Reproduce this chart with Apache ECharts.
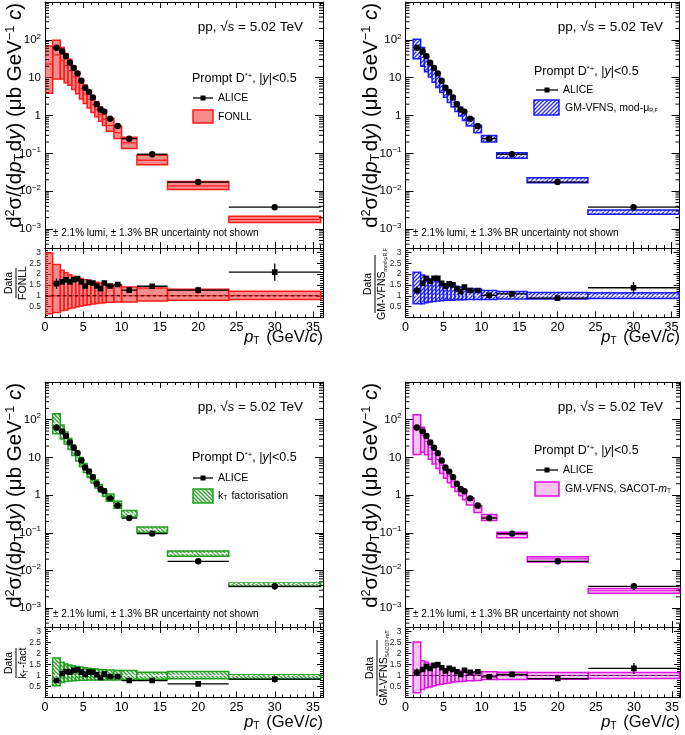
<!DOCTYPE html>
<html><head><meta charset="utf-8">
<script src="https://cdn.jsdelivr.net/npm/echarts@6/dist/echarts.min.js"></script>
<style>html,body{margin:0;padding:0;background:#fff}#c{width:685px;height:735px}</style>
</head><body><div id="c"></div><script>
// ---------------- data ----------------
const binLo = [1,2,2.5,3,3.5,4,4.5,5,5.5,6,6.5,7,7.5,8,9,10,12,16,24];
const binHi = [2,2.5,3,3.5,4,4.5,5,5.5,6,6.5,7,7.5,8,9,10,12,16,24,36];
const binCenter = [1.5,2.25,2.75,3.25,3.75,4.25,4.75,5.25,5.75,6.25,6.75,7.25,7.75,8.5,9.5,11,14,20,30];
const aliceXsec = [62,49,37,25,18,13,8.3,5.4,4.2,3.0,2.0,1.45,1.27,0.82,0.53,0.245,0.095,0.0175,0.0038];
const aliceStatRel = [0.15,0.05,0.04,0.04,0.04,0.04,0.04,0.04,0.04,0.04,0.05,0.05,0.05,0.05,0.05,0.06,0.06,0.12,0.19];

const fonllBinLo = [0,1,2,2.5,3,3.5,4,4.5,5,5.5,6,6.5,7,7.5,8,9,10,12,16,24];
const fonllBinHi = [1,2,2.5,3,3.5,4,4.5,5,5.5,6,6.5,7,7.5,8,9,10,12,16,24,36];
const fonllCentral = [23,40,29,21,15.5,10.8,7.5,5.2,3.7,2.7,1.95,1.42,1.06,0.80,0.55,0.35,0.19,0.066,0.0138,0.0018];
const fonllRelHi = [2.97,2.44,2.17,2.06,1.97,1.89,1.83,1.79,1.74,1.70,1.65,1.62,1.59,1.56,1.52,1.48,1.41,1.36,1.30,1.21];
const fonllRelLo = [0.17,0.23,0.32,0.35,0.41,0.45,0.50,0.53,0.56,0.59,0.62,0.65,0.67,0.68,0.70,0.71,0.71,0.76,0.80,0.83];
const ratioFonll = [1.56,1.64,1.74,1.64,1.74,1.79,1.64,1.45,1.62,1.59,1.45,1.33,1.59,1.45,1.52,1.26,1.44,1.26,2.09];

const gmModCentral = [50,32,21,14.8,10.2,7.3,5.3,3.85,2.8,2.1,1.55,1.18,0.9,0.64,0.42,0.24,0.087,0.0197,0.0028];
const gmModRelHi = [2.08,1.96,1.85,1.78,1.70,1.66,1.61,1.55,1.50,1.47,1.44,1.40,1.37,1.34,1.31,1.24,1.20,1.15,1.14];
const gmModRelLo = [0.63,0.63,0.68,0.71,0.74,0.76,0.77,0.79,0.79,0.80,0.82,0.82,0.82,0.83,0.83,0.83,0.85,0.85,0.88];
const ratioGmMod = [1.24,1.58,1.81,1.67,1.81,1.81,1.58,1.44,1.55,1.50,1.32,1.20,1.40,1.24,1.24,1.02,1.09,0.89,1.37];

const ktCentral = [80,45,31,21.5,14.8,10.4,7.2,5.1,3.7,2.65,1.95,1.5,1.15,0.86,0.56,0.318,0.123,0.028,0.0045];
const ktRelHi = [1.79,1.60,1.52,1.47,1.44,1.40,1.38,1.35,1.33,1.31,1.29,1.27,1.26,1.25,1.23,1.23,1.15,1.18,1.03];
const ktRelLo = [0.53,0.68,0.73,0.75,0.76,0.77,0.78,0.78,0.79,0.79,0.79,0.80,0.80,0.80,0.80,0.83,0.83,0.85,0.83];
const ratioKt = [0.77,1.08,1.18,1.15,1.23,1.26,1.15,1.06,1.15,1.14,1.03,0.91,1.06,0.95,0.95,0.77,0.77,0.62,0.83];

const sacotCentral = [54,38,26.5,18.5,12.6,8.8,6.2,4.45,3.2,2.35,1.75,1.32,1.02,0.72,0.45,0.26,0.09,0.0203,0.0029];
const sacotRelHi = [2.52,1.67,1.60,1.52,1.46,1.40,1.35,1.31,1.27,1.24,1.21,1.20,1.18,1.17,1.15,1.17,1.15,1.14,1.14];
const sacotRelLo = [0.22,0.36,0.44,0.48,0.53,0.58,0.60,0.63,0.66,0.70,0.71,0.73,0.74,0.76,0.77,0.82,0.82,0.83,0.86];
const ratioSacot = [1.14,1.27,1.40,1.32,1.46,1.50,1.35,1.20,1.32,1.27,1.17,1.05,1.24,1.14,1.17,0.94,1.05,0.86,1.32];

const xTickLabels = ['0','5','10','15','20','25','30','35'];
const logDecades = [-3,-2,-1,0,1,2];
const logTickLabels = ['10{s|−3}','10{s|−2}','10{s|−1}','1','10','10{s|2}'];
const ratioTickLabels = ['0.5','1','1.5','2','2.5','3'];
const logMinorMult = [2,3,4,5,6,7,8,9];
const logMinorDecades = [-4,-3,-2,-1,0,1,2];

// ---------------- styles ----------------
const FF = 'Liberation Sans, Arial, sans-serif';
const F = (s, it) => (it ? 'italic ' : '') + s + 'px "Liberation Sans", Arial, sans-serif';
function hatch(color, dir) {
  const n = 4, c = document.createElement('canvas'); c.width = n; c.height = n;
  const g = c.getContext('2d');
  g.fillStyle = '#fff'; g.fillRect(0,0,n,n);
  g.strokeStyle = color; g.lineWidth = 1.3; g.beginPath();
  if (dir > 0) { g.moveTo(-1,n+1); g.lineTo(n+1,-1); g.moveTo(-1,1); g.lineTo(1,-1); g.moveTo(n-1,n+1); g.lineTo(n+1,n-1); }
  else { g.moveTo(-1,-1); g.lineTo(n+1,n+1); g.moveTo(-1,n-1); g.lineTo(1,n+1); g.moveTo(n-1,-1); g.lineTo(n+1,1); }
  g.stroke();
  return {image: c, repeat: 'repeat'};
}
const models = {
  fonll: {lo: fonllBinLo, hi: fonllBinHi, central: fonllCentral, relLo: fonllRelLo, relHi: fonllRelHi, ratio: ratioFonll,
    fill: 'rgba(240,70,70,0.62)', stroke: '#ff1a1a', cline: '#ff0000', cdash: null, unity: true},
  gmmod: {lo: binLo, hi: binHi, central: gmModCentral, relLo: gmModRelLo, relHi: gmModRelHi, ratio: ratioGmMod,
    fill: hatch('#2a2af0', 1), stroke: '#1a1aff', cline: '#ffffff', cdash: [3,2], unity: false},
  kt: {lo: binLo, hi: binHi, central: ktCentral, relLo: ktRelLo, relHi: ktRelHi, ratio: ratioKt,
    fill: hatch('#2aa52a', -1), stroke: '#1fa01f', cline: '#ffffff', cdash: [3,2], unity: false},
  sacot: {lo: binLo, hi: binHi, central: sacotCentral, relLo: sacotRelLo, relHi: sacotRelHi, ratio: ratioSacot,
    fill: 'rgba(245,185,240,0.85)', stroke: '#e010e0', cline: '#e000e0', cdash: null, unity: true}
};

const panels = [
  {m: 'fonll', left: 45, width: 278, xmax: 36.3, top: 2, mainH: 246, ratioH: 69.5},
  {m: 'gmmod', left: 405.5, width: 274, xmax: 36.05, top: 2, mainH: 246, ratioH: 69.5},
  {m: 'kt', left: 45, width: 278, xmax: 36.3, top: 382, mainH: 245, ratioH: 70.5},
  {m: 'sacot', left: 405.5, width: 274.5, xmax: 36.05, top: 382, mainH: 245, ratioH: 70.5}
];
const LOGMIN = Math.pow(10, -3.5), LOGMAX = 1000;

const axLine = {show: true, onZero: false, lineStyle: {color: '#000', width: 1}};
function xAx(g, xmax, pos, labels) {
  return {type: 'value', gridIndex: g, min: 0, max: xmax, interval: 5, position: pos,
    axisLine: axLine,
    axisTick: {show: true, inside: true, length: 6, lineStyle: {color: '#000', width: 1}},
    minorTick: {show: true, splitNumber: 5, length: 3, lineStyle: {color: '#000', width: 1}},
    splitLine: {show: false}, minorSplitLine: {show: false},
    axisLabel: labels ? {show: true, margin: 4, fontSize: 12.5, fontFamily: FF, color: '#000',
      formatter: v => (Math.abs(v % 5) < 1e-6 && v <= 35) ? xTickLabels[Math.round(v / 5)] : ''} : {show: false}};
}
function yLog(g, pos, labels) {
  return {type: 'log', logBase: 10, gridIndex: g, min: LOGMIN, max: LOGMAX, position: pos,
    axisLine: axLine,
    axisTick: {show: true, inside: true, length: 8, lineStyle: {color: '#000', width: 1}},
    minorTick: {show: false}, splitLine: {show: false},
    axisLabel: labels ? {show: true, margin: 4, fontSize: 11.5, fontFamily: FF, color: '#000',
      formatter: v => { const l = Math.log10(v), e = Math.round(l);
        if (Math.abs(l - e) > 1e-6) return ''; const k = logDecades.indexOf(e); return k < 0 ? '' : logTickLabels[k]; },
      rich: {s: {fontSize: 8, fontFamily: FF, color: '#000', padding: [0, 0, 7, 0]}}} : {show: false}};
}
function yRatio(g, pos, labels) {
  return {type: 'value', gridIndex: g, min: 0, max: 3.2, interval: 0.5, position: pos,
    axisLine: axLine,
    axisTick: {show: true, inside: true, length: 6, lineStyle: {color: '#000', width: 1}},
    minorTick: {show: true, splitNumber: 5, length: 3, lineStyle: {color: '#000', width: 1}},
    splitLine: {show: false}, minorSplitLine: {show: false},
    axisLabel: labels ? {show: true, margin: 4, fontSize: 8.5, fontFamily: FF, color: '#222',
      formatter: v => { const k = Math.round(v / 0.5) - 1; return (Math.abs(v / 0.5 - Math.round(v / 0.5)) < 1e-6 && k >= 0 && k < 6) ? ratioTickLabels[k] : ''; }} : {show: false}};
}

function bandRender(mod) {
  return (params, api) => {
    const x0 = api.value(0), x1 = api.value(1), lo = api.value(2), hi = api.value(3), c = api.value(4);
    const p0 = api.coord([x0, hi]), p1 = api.coord([x1, lo]);
    const q0 = api.coord([x0, c]), q1 = api.coord([x1, c]);
    return {type: 'group', children: [
      {type: 'rect', shape: {x: p0[0], y: p0[1], width: p1[0] - p0[0], height: p1[1] - p0[1]},
        style: {fill: mod.fill, stroke: mod.stroke, lineWidth: 1.5}},
      {type: 'line', shape: {x1: q0[0] + 1, y1: q0[1], x2: q1[0] - 1, y2: q1[1]},
        style: {stroke: mod.cline, lineWidth: 1, lineDash: mod.cdash}}
    ]};
  };
}
function dataRender(kind) {
  return (params, api) => {
    const c = api.coord([api.value(0), api.value(1)]);
    const l = api.coord([api.value(2), api.value(1)]);
    const r = api.coord([api.value(3), api.value(1)]);
    const lo = api.coord([api.value(0), api.value(4)]);
    const hi = api.coord([api.value(0), api.value(5)]);
    const mk = kind === 'circle'
      ? {type: 'circle', shape: {cx: c[0], cy: c[1], r: 3.2}, style: {fill: '#000'}}
      : {type: 'rect', shape: {x: c[0] - 2.8, y: c[1] - 2.8, width: 5.6, height: 5.6}, style: {fill: '#000'}};
    return {type: 'group', children: [
      {type: 'line', shape: {x1: l[0], y1: c[1], x2: r[0], y2: c[1]}, style: {stroke: '#000', lineWidth: 1.3}},
      {type: 'line', shape: {x1: c[0], y1: lo[1], x2: c[0], y2: hi[1]}, style: {stroke: '#000', lineWidth: 1.3}},
      mk]};
  };
}
function minorRender(params, api) {
  const cs = params.coordSys;
  const y = api.coord([1, api.value(1)])[1];
  if (y < cs.y + 0.5 || y > cs.y + cs.height - 0.5) return null;
  return {type: 'group', children: [
    {type: 'line', shape: {x1: cs.x, y1: y, x2: cs.x + 4, y2: y}, style: {stroke: '#000', lineWidth: 1}},
    {type: 'line', shape: {x1: cs.x + cs.width, y1: y, x2: cs.x + cs.width - 4, y2: y}, style: {stroke: '#000', lineWidth: 1}}
  ]};
}
const minorVals = [];
logMinorDecades.forEach(d => logMinorMult.forEach(m => minorVals.push([1, m * Math.pow(10, d)])));

const grid = [], xAxis = [], yAxis = [], series = [];
panels.forEach((p, i) => {
  const mod = models[p.m];
  grid.push({left: p.left, top: p.top, width: p.width, height: p.mainH});
  grid.push({left: p.left, top: p.top + p.mainH, width: p.width, height: p.ratioH});
  const gm = 2 * i, gr = 2 * i + 1;
  xAxis.push(xAx(gm, p.xmax, 'bottom', false), xAx(gm, p.xmax, 'top', false), xAx(gr, p.xmax, 'bottom', true), xAx(gr, p.xmax, 'top', false));
  yAxis.push(yLog(gm, 'left', true), yLog(gm, 'right', false), yRatio(gr, 'left', true), yRatio(gr, 'right', false));
  const xm = 4 * i, xr = 4 * i + 2;
  const mainBand = mod.central.map((c, j) => [mod.lo[j], mod.hi[j], c * mod.relLo[j], c * mod.relHi[j], c]);
  const ratioBand = mod.central.map((c, j) => [mod.lo[j], mod.hi[j], mod.relLo[j], mod.relHi[j], 1]);
  const mainData = aliceXsec.map((v, j) => [binCenter[j], v, binLo[j], binHi[j], v * (1 - aliceStatRel[j]), v * (1 + aliceStatRel[j])]);
  const ratioData = mod.ratio.map((v, j) => [binCenter[j], v, binLo[j], binHi[j], v * (1 - aliceStatRel[j]), v * (1 + aliceStatRel[j])]);
  series.push({type: 'custom', xAxisIndex: xm, yAxisIndex: xm, clip: true, silent: true, data: mainBand,
    encode: {x: [0, 1], y: [2, 3]}, renderItem: bandRender(mod), z: 2});
  series.push({type: 'custom', xAxisIndex: xm, yAxisIndex: xm, silent: true, data: minorVals,
    encode: {x: 0, y: 1}, renderItem: minorRender, z: 5});
  series.push({type: 'custom', xAxisIndex: xm, yAxisIndex: xm, clip: true, silent: true, data: mainData,
    encode: {x: [0, 2, 3], y: [1, 4, 5]}, renderItem: dataRender('circle'), z: 4});
  series.push({type: 'custom', xAxisIndex: xr, yAxisIndex: xr, clip: true, silent: true, data: ratioBand,
    encode: {x: [0, 1], y: [2, 3]}, renderItem: bandRender(mod), z: 2});
  if (mod.unity) series.push({type: 'line', xAxisIndex: xr, yAxisIndex: xr, silent: true, symbol: 'none',
    data: [[0, 1], [p.xmax, 1]], lineStyle: {color: '#000', width: 1, type: [3, 3]}, z: 3});
  series.push({type: 'custom', xAxisIndex: xr, yAxisIndex: xr, clip: true, silent: true, data: ratioData,
    encode: {x: [0, 2, 3], y: [1, 4, 5]}, renderItem: dataRender('square'), z: 4});
});

// ---------------- texts ----------------
const richStd = (s) => ({
  it: {font: F(s, true), fill: '#000'},
  sup: {font: F(s * 0.62), fill: '#000', padding: [0, 0, s * 0.45, 0]},
  sub: {font: F(s * 0.62), fill: '#000', padding: [s * 0.45, s * 0.12, 0, 0]},
  tiny: {font: F(s * 0.5), fill: '#000', padding: [s * 0.5, 0, 0, 0]}
});
function txt(x, y, text, size, align, extra) {
  return Object.assign({type: 'text', x: x, y: y, silent: true,
    style: {text: text, font: F(size), fill: '#000', align: align, textAlign: align,
      verticalAlign: 'middle', textVerticalAlign: 'middle', rich: richStd(size)}}, extra || {});
}
const graphic = [];
const textCfg = [
  {pp: [303, 27], prompt: [192, 79], ali: [193, 213, 98], box: [193, 110, 20, 13], boxText: [218, 117], lumi: [53, 233],
   ytitle: [15, 3], rl: [16, 283], rlW: 30, xname: [323, 337], name: 'FONLL', denom: 'FONLL'},
  {pp: [663, 27], prompt: [534, 72], ali: [536, 558, 90], box: [534, 100, 25, 15], boxText: [565, 108], lumi: [413, 233],
   ytitle: [371, 3], rl: [375, 284], rlW: 58, xname: [680, 337], name: 'GM-VFNS, mod-μ{tiny|R,F}', denom: 'GM-VFNS{tiny|mod-μR,F}'},
  {pp: [303, 407], prompt: [192, 458], ali: [193, 213, 478], box: [193, 489, 20, 14], boxText: [218, 496], lumi: [53, 614],
   ytitle: [15, 383], rl: [16, 663], rlW: 30, xname: [323, 722], name: 'k{sub|T} factorisation', denom: 'k{sub|T}-fact'},
  {pp: [663, 407], prompt: [534, 451], ali: [536, 558, 470], box: [535, 482, 24, 14], boxText: [565, 489], lumi: [413, 614],
   ytitle: [371, 383], rl: [377, 668], rlW: 56, xname: [680, 722], name: 'GM-VFNS, SACOT-{it|m}{sub|T}', denom: 'GM-VFNS{tiny|SACOT-mT}'}
];
textCfg.forEach((t, i) => {
  const mod = models[panels[i].m];
  graphic.push(txt(t.pp[0], t.pp[1], 'pp, √{it|s} = 5.02 TeV', 13.5, 'right'));
  graphic.push(txt(t.prompt[0], t.prompt[1], 'Prompt D{sup|*+}, |{it|y}|<0.5', 12.5, 'left'));
  graphic.push({type: 'line', silent: true, shape: {x1: t.ali[0], y1: t.ali[2], x2: t.ali[1], y2: t.ali[2]}, style: {stroke: '#000', lineWidth: 1.3}});
  graphic.push({type: 'rect', silent: true, shape: {x: (t.ali[0] + t.ali[1]) / 2 - 2.5, y: t.ali[2] - 2.5, width: 5, height: 5}, style: {fill: '#000'}});
  graphic.push(txt(t.ali[1] + 5, t.ali[2], 'ALICE', 10.5, 'left'));
  graphic.push({type: 'rect', silent: true, shape: {x: t.box[0], y: t.box[1], width: t.box[2], height: t.box[3]},
    style: {fill: mod.fill, stroke: mod.stroke, lineWidth: 1.5}});
  graphic.push(txt(t.boxText[0], t.boxText[1], t.name, 10.5, 'left'));
  graphic.push(txt(t.lumi[0], t.lumi[1], '± 2.1% lumi, ± 1.3% BR uncertainty not shown', 10, 'left'));
  graphic.push(txt(t.ytitle[0], t.ytitle[1], 'd{sup|2}σ/(d{it|p}{sub|T}d{it|y}) (μb GeV{sup|−1} {it|c})', 20.5, 'right', {rotation: Math.PI / 2}));
  graphic.push({type: 'group', x: t.rl[0], y: t.rl[1], rotation: Math.PI / 2, silent: true, children: [
    txt(0, -7, 'Data', 10.5, 'center'),
    {type: 'line', shape: {x1: -t.rlW / 2, y1: 0, x2: t.rlW / 2, y2: 0}, style: {stroke: '#000', lineWidth: 1}},
    txt(0, 7.5, t.denom, 10.5, 'center')
  ]});
  graphic.push(txt(t.xname[0], t.xname[1], '{it|p}{sub|T} (GeV/{it|c})', 16.5, 'right'));
});

const chart = echarts.init(document.getElementById('c'), null, {renderer: 'canvas'});
chart.setOption({animation: false, backgroundColor: '#fff', grid, xAxis, yAxis, series, graphic});
</script></body></html>
